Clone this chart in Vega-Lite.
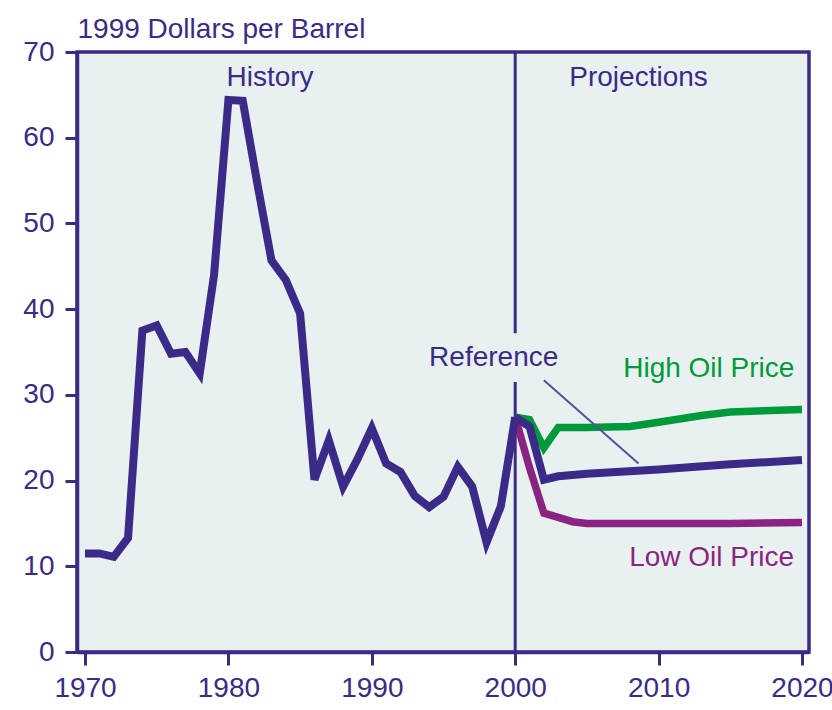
{
  "$schema": "https://vega.github.io/schema/vega-lite/v6.json",
  "width": 732,
  "height": 600,
  "autosize": {"type": "none"},
  "padding": {"left": 77, "top": 52, "right": 23, "bottom": 58},
  "background": "white",
  "config": {
    "view": {"fill": "#e9f1f0", "stroke": "#3b2a88", "strokeWidth": 3.5},
    "font": "Liberation Sans",
    "axis": {"grid": false}
  },
  "datasets": {
    "series": [
      {"series": "History", "year": 1970, "price": 11.5},
      {"series": "History", "year": 1971, "price": 11.5},
      {"series": "History", "year": 1972, "price": 11.1},
      {"series": "History", "year": 1973, "price": 13.3},
      {"series": "History", "year": 1974, "price": 37.5},
      {"series": "History", "year": 1975, "price": 38.1},
      {"series": "History", "year": 1976, "price": 34.8},
      {"series": "History", "year": 1977, "price": 35.0},
      {"series": "History", "year": 1978, "price": 32.5},
      {"series": "History", "year": 1979, "price": 44.0},
      {"series": "History", "year": 1980, "price": 64.4},
      {"series": "History", "year": 1981, "price": 64.3},
      {"series": "History", "year": 1982, "price": 54.8},
      {"series": "History", "year": 1983, "price": 45.7},
      {"series": "History", "year": 1984, "price": 43.4},
      {"series": "History", "year": 1985, "price": 39.5},
      {"series": "History", "year": 1986, "price": 20.1},
      {"series": "History", "year": 1987, "price": 24.7},
      {"series": "History", "year": 1988, "price": 19.3},
      {"series": "History", "year": 1989, "price": 22.5},
      {"series": "History", "year": 1990, "price": 26.1},
      {"series": "History", "year": 1991, "price": 22.0},
      {"series": "History", "year": 1992, "price": 21.0},
      {"series": "History", "year": 1993, "price": 18.2},
      {"series": "History", "year": 1994, "price": 16.9},
      {"series": "History", "year": 1995, "price": 18.1},
      {"series": "History", "year": 1996, "price": 21.6},
      {"series": "History", "year": 1997, "price": 19.3},
      {"series": "History", "year": 1998, "price": 12.8},
      {"series": "History", "year": 1999, "price": 17.0},
      {"series": "History", "year": 2000, "price": 27.4},
      {"series": "Low", "year": 2000, "price": 27.4},
      {"series": "Low", "year": 2001, "price": 21.5},
      {"series": "Low", "year": 2002, "price": 16.2},
      {"series": "Low", "year": 2003, "price": 15.7},
      {"series": "Low", "year": 2004, "price": 15.2},
      {"series": "Low", "year": 2005, "price": 15.0},
      {"series": "Low", "year": 2010, "price": 15.0},
      {"series": "Low", "year": 2015, "price": 15.0},
      {"series": "Low", "year": 2020, "price": 15.1},
      {"series": "High", "year": 2000, "price": 27.4},
      {"series": "High", "year": 2001, "price": 27.1},
      {"series": "High", "year": 2002, "price": 23.8},
      {"series": "High", "year": 2003, "price": 26.2},
      {"series": "High", "year": 2005, "price": 26.2},
      {"series": "High", "year": 2008, "price": 26.3},
      {"series": "High", "year": 2010, "price": 26.8},
      {"series": "High", "year": 2013, "price": 27.6},
      {"series": "High", "year": 2015, "price": 28.0},
      {"series": "High", "year": 2020, "price": 28.3},
      {"series": "Reference", "year": 2000, "price": 27.4},
      {"series": "Reference", "year": 2001, "price": 26.3},
      {"series": "Reference", "year": 2002, "price": 20.1},
      {"series": "Reference", "year": 2003, "price": 20.5},
      {"series": "Reference", "year": 2005, "price": 20.8},
      {"series": "Reference", "year": 2010, "price": 21.3},
      {"series": "Reference", "year": 2015, "price": 21.9},
      {"series": "Reference", "year": 2020, "price": 22.4}
    ],
    "divider": [
      {"year": 2000, "lo": 0, "hi": 31.5},
      {"year": 2000, "lo": 37.2, "hi": 70}
    ],
    "pointer": [
      {"x1": 2002.0, "y1": 31.7, "x2": 2008.6, "y2": 22.0}
    ],
    "labels": [
      {"text": "History", "year": 1982.9, "price": 67.0, "kind": "navy"},
      {"text": "Projections", "year": 2008.6, "price": 67.0, "kind": "navy"},
      {"text": "Reference", "year": 1998.5, "price": 34.3, "kind": "navy"},
      {"text": "High Oil Price", "year": 2013.5, "price": 33.0, "kind": "green"},
      {"text": "Low Oil Price", "year": 2013.7, "price": 11.0, "kind": "magenta"}
    ]
  },
  "layer": [
    {
      "data": {"name": "divider"},
      "mark": {"type": "rule", "color": "#3b2a88", "strokeWidth": 3},
      "encoding": {
        "x": {"field": "year", "type": "quantitative", "scale": {"domain": [1969.44, 2020.49], "nice": false, "zero": false},
          "axis": {"values": [1970, 1980, 1990, 2000, 2010, 2020], "format": "d", "title": null, "tickSize": 13, "tickWidth": 3, "tickColor": "#3b2a88", "domainColor": "#3b2a88", "domainWidth": 3.5, "labelFontSize": 28, "labelColor": "#3b2a88", "labelPadding": 9, "labelFont": "Liberation Sans"}},
        "y": {"field": "lo", "type": "quantitative", "scale": {"domain": [0, 70], "nice": false},
          "axis": {"values": [0, 10, 20, 30, 40, 50, 60, 70], "title": "1999 Dollars per Barrel", "titleAngle": 0, "titleX": 0, "titleY": -15, "titleAlign": "left", "titleBaseline": "alphabetic", "titleFontSize": 28, "titleFontWeight": "normal", "titleColor": "#3b2a88", "titleFont": "Liberation Sans", "tickSize": 12, "tickWidth": 3, "tickColor": "#3b2a88", "domainColor": "#3b2a88", "domainWidth": 3.5, "labelFontSize": 28, "labelColor": "#3b2a88", "labelPadding": 11, "labelFont": "Liberation Sans"}},
        "y2": {"field": "hi"}
      }
    },
    {
      "data": {"name": "series"},
      "transform": [{"filter": "datum.series === 'Low'"}],
      "mark": {"type": "line", "color": "#8b2382", "strokeWidth": 7.5, "strokeJoin": "miter"},
      "encoding": {
        "x": {"field": "year", "type": "quantitative"},
        "y": {"field": "price", "type": "quantitative"}
      }
    },
    {
      "data": {"name": "series"},
      "transform": [{"filter": "datum.series === 'High'"}],
      "mark": {"type": "line", "color": "#009a3a", "strokeWidth": 7.5, "strokeJoin": "miter"},
      "encoding": {
        "x": {"field": "year", "type": "quantitative"},
        "y": {"field": "price", "type": "quantitative"}
      }
    },
    {
      "data": {"name": "series"},
      "transform": [{"filter": "datum.series === 'History' || datum.series === 'Reference'"}],
      "mark": {"type": "line", "color": "#3b2a88", "strokeWidth": 8, "strokeJoin": "miter"},
      "encoding": {
        "x": {"field": "year", "type": "quantitative"},
        "y": {"field": "price", "type": "quantitative"},
        "detail": {"field": "series"}
      }
    },
    {
      "data": {"name": "pointer"},
      "mark": {"type": "rule", "color": "#5a4f9a", "strokeWidth": 2},
      "encoding": {
        "x": {"field": "x1", "type": "quantitative"},
        "y": {"field": "y1", "type": "quantitative"},
        "x2": {"field": "x2"},
        "y2": {"field": "y2"}
      }
    },
    {
      "data": {"name": "labels"},
      "mark": {"type": "text", "fontSize": 28, "font": "Liberation Sans", "align": "center", "baseline": "middle"},
      "encoding": {
        "x": {"field": "year", "type": "quantitative"},
        "y": {"field": "price", "type": "quantitative"},
        "text": {"field": "text"},
        "color": {"field": "kind", "type": "nominal", "scale": {"domain": ["navy", "green", "magenta"], "range": ["#3b2a88", "#009a3a", "#8b2382"]}, "legend": null}
      }
    }
  ]
}
